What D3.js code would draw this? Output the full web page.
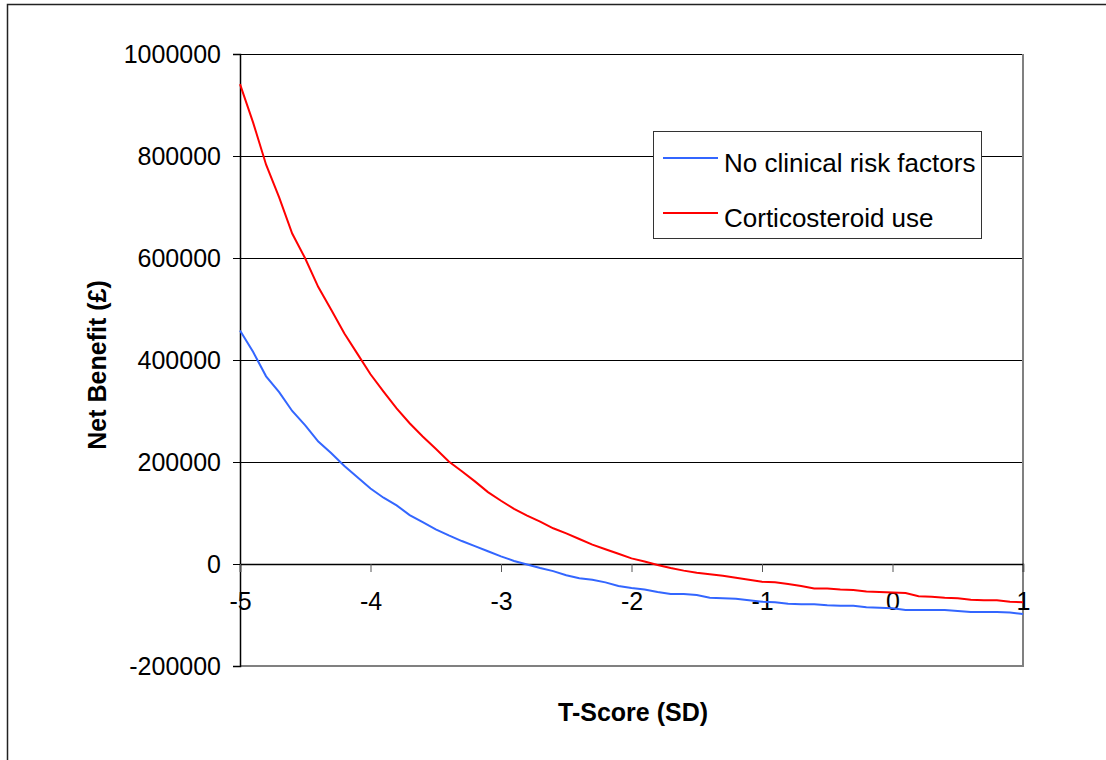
<!DOCTYPE html>
<html>
<head>
<meta charset="utf-8">
<script src="https://cdnjs.cloudflare.com/ajax/libs/d3/7.8.5/d3.min.js"></script>
<style>
  body { margin: 0; background: #fff; }
  text { font-family: Arial, "Liberation Sans", sans-serif; fill: #000; }
</style>
</head>
<body>
<div id="chart"></div>
<script>
// T-score values, one every 0.1 SD
var tScores = d3.range(-50, 11).map(function(i) { return i / 10; });

var noRiskFactors = [458000, 416000, 368000, 337000, 300000, 272000, 240000, 217000, 192000, 170000,
    148000, 130000, 115000, 96000, 82000, 68000, 56000, 45000, 35000, 25000,
    15000, 6000, -1000, -8000, -14000, -22000, -28000, -31000, -36000, -43000,
    -47000, -50000, -55000, -59000, -59000, -61000, -66000, -67000, -68000, -71000,
    -74000, -75000, -78000, -79000, -79000, -81000, -82000, -82000, -85000, -86000,
    -87000, -90000, -90000, -90000, -90000, -92000, -94000, -94000, -94000, -95000,
    -98000];

var corticosteroid = [941000, 866000, 783000, 719000, 648000, 599000, 543000, 498000, 452000, 412000,
    372000, 338000, 305000, 276000, 250000, 226000, 201000, 182000, 162000, 141000,
    124000, 108000, 95000, 83000, 70000, 60000, 49000, 38000, 29000, 20000,
    11000, 5000, -2000, -8000, -13000, -17000, -20000, -23000, -27000, -31000,
    -35000, -36000, -39000, -43000, -48000, -48000, -50000, -51000, -54000, -55000,
    -56000, -57000, -63000, -64000, -66000, -67000, -70000, -71000, -71000, -74000,
    -75000];

var yTicks = [-200000, 0, 200000, 400000, 600000, 800000, 1000000];
var xTicks = [-5, -4, -3, -2, -1, 0, 1];

var seriesNames = ["No clinical risk factors", "Corticosteroid use"];
var seriesColors = ["#3366ff", "#ff0000"];
var seriesValues = [noRiskFactors, corticosteroid];

var svgWidth = 1106;
var svgHeight = 760;

// plain hyphen for negatives, like the original
var fmt = function(d) { return String(d); };

var svg = d3.select("#chart").append("svg")
    .attr("width", svgWidth)
    .attr("height", svgHeight);

// outer chart border, runs off the picture at right and bottom
svg.append("rect")
    .attr("x", 7.5)
    .attr("y", 4.5)
    .attr("width", 1300)
    .attr("height", 900)
    .attr("fill", "none")
    .attr("stroke", "#222")
    .attr("stroke-width", 1.5);

var xScale = d3.scaleLinear().domain([-5, 1]).range([240, 1023]);
var yScale = d3.scaleLinear().domain([-200000, 1000000]).range([666, 54]);

// horizontal gridlines
svg.append("g")
    .selectAll("line")
    .data(yTicks.filter(function(d) { return d > -200000; }))
    .enter().append("line")
    .attr("x1", xScale(-5))
    .attr("x2", xScale(1))
    .attr("y1", function(d) { return Math.round(yScale(d)) + 0.5; })
    .attr("y2", function(d) { return Math.round(yScale(d)) + 0.5; })
    .attr("stroke", "#000")
    .attr("stroke-width", 1);

// plot area border right and bottom
svg.append("path")
    .attr("d", "M" + xScale(-5) + "," + yScale(-200000) + "H" + xScale(1) + "V" + yScale(1000000))
    .attr("fill", "none")
    .attr("stroke", "#808080")
    .attr("stroke-width", 2);

// y axis
var yAxis = svg.append("g")
    .attr("transform", "translate(" + xScale(-5) + ",0)")
    .call(d3.axisLeft(yScale).tickValues(yTicks).tickSize(7).tickPadding(12).tickFormat(fmt));
yAxis.select(".domain").attr("stroke", "#000").attr("stroke-width", 1.5);
yAxis.selectAll(".tick line").attr("stroke", "#000");
yAxis.selectAll("text")
    .style("font-family", "Arial, 'Liberation Sans', sans-serif")
    .style("font-size", "25px")
    .attr("fill", "#000");

// x axis sits on the zero line, labels hang below it
var xAxis = svg.append("g")
    .attr("transform", "translate(0," + yScale(0) + ")")
    .call(d3.axisBottom(xScale).tickValues(xTicks).tickSize(8).tickPadding(20).tickFormat(fmt));
xAxis.select(".domain").attr("stroke", "#000").attr("stroke-width", 1.5);
xAxis.selectAll(".tick line").attr("stroke", "#555");
xAxis.selectAll("text")
    .style("font-family", "Arial, 'Liberation Sans', sans-serif")
    .style("font-size", "25px")
    .attr("fill", "#000");

var line = d3.line()
    .x(function(d) { return xScale(d[0]); })
    .y(function(d) { return yScale(d[1]); });

seriesValues.forEach(function(vals, i) {
    svg.append("path")
        .datum(d3.zip(tScores, vals))
        .attr("fill", "none")
        .attr("stroke", seriesColors[i])
        .attr("stroke-width", 2)
        .attr("d", line);
});

// axis titles
svg.append("text")
    .attr("x", 633)
    .attr("y", 721)
    .attr("text-anchor", "middle")
    .style("font-size", "25px")
    .style("font-weight", "bold")
    .text("T-Score (SD)");

svg.append("text")
    .attr("transform", "translate(106,365) rotate(-90)")
    .attr("text-anchor", "middle")
    .style("font-size", "25px")
    .style("font-weight", "bold")
    .text("Net Benefit (£)");

// legend
var legend = svg.append("g");
legend.append("rect")
    .attr("x", 653.5)
    .attr("y", 131.5)
    .attr("width", 328)
    .attr("height", 107)
    .attr("fill", "#fff")
    .attr("stroke", "#333")
    .attr("stroke-width", 1);

seriesNames.forEach(function(name, i) {
    var ly = 158 + i * 55;
    legend.append("line")
        .attr("x1", 663)
        .attr("x2", 718)
        .attr("y1", ly)
        .attr("y2", ly)
        .attr("stroke", seriesColors[i])
        .attr("stroke-width", 2);
    legend.append("text")
        .attr("x", 724)
        .attr("y", ly + 6)
        .attr("dy", "0.32em")
        .style("font-size", "26px")
        .text(name);
});
</script>
</body>
</html>
